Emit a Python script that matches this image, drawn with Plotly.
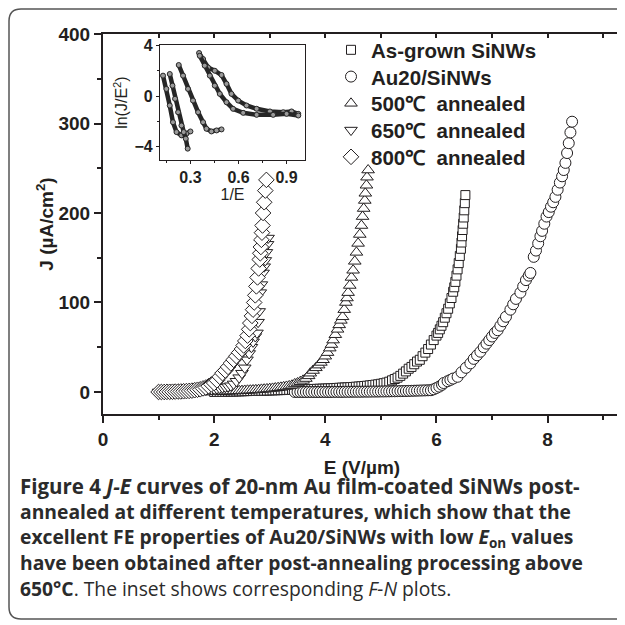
import plotly.graph_objects as go

# ---------------- data ----------------
# Main panel: J (uA/cm^2) vs E (V/um)
as_grown_E = [2.00, 2.05, 2.10, 2.15, 2.20, 2.25, 2.30, 2.35, 2.40, 2.45,
              2.50, 2.55, 2.60, 2.65, 2.70, 2.75, 2.80, 2.85, 2.90, 2.95,
              3.00, 3.05, 3.10, 3.15, 3.20, 3.25, 3.30, 3.35, 3.40, 3.45,
              3.50, 3.55, 3.60, 3.65, 3.70, 3.75, 3.80, 3.85, 3.90, 3.95,
              4.00, 4.05, 4.10, 4.15, 4.20, 4.25, 4.30, 4.35, 4.40, 4.45,
              4.50, 4.55, 4.60, 4.65, 4.70, 4.75, 4.80, 4.85, 4.90, 4.95,
              5.00, 5.05, 5.10, 5.15, 5.20, 5.25, 5.30, 5.35, 5.40, 5.45,
              5.50, 5.55, 5.60, 5.65, 5.70, 5.75, 5.80, 5.85, 5.90, 5.95,
              6.00, 6.03, 6.06, 6.09, 6.12, 6.15, 6.18, 6.21, 6.24, 6.27,
              6.30, 6.32, 6.34, 6.36, 6.38, 6.40, 6.42, 6.44, 6.45, 6.46,
              6.47, 6.48, 6.49, 6.50, 6.51, 6.52]
as_grown_J = [0, 0.1, 0.2, 0.2, 0.3, 0.4, 0.5, 0.5, 0.6, 0.7,
              0.8, 0.9, 1.0, 1.1, 1.2, 1.3, 1.4, 1.4, 1.5, 1.6,
              1.7, 1.8, 1.9, 2.0, 2.1, 2.2, 2.3, 2.4, 2.5, 2.6,
              2.7, 2.8, 2.9, 3.0, 3.1, 3.2, 3.4, 3.5, 3.6, 3.7,
              3.8, 4.0, 4.1, 4.3, 4.5, 4.7, 4.9, 5.0, 5.2, 5.4,
              5.6, 5.9, 6.1, 6.4, 6.7, 7.0, 7.4, 7.8, 8.2, 8.6,
              9.2, 9.8, 10.5, 11.5, 13, 14.5, 16, 18, 20.5, 23,
              26, 28, 31, 34, 36, 40, 44, 48, 53, 58,
              63, 66, 70, 74, 78, 83, 88, 93, 99, 105,
              112, 117, 123, 130, 137, 144, 152, 160, 167, 174,
              181, 188, 195, 203, 211, 220]

au20_E = [3.45, 3.50, 3.55, 3.60, 3.65, 3.70, 3.75, 3.80, 3.85, 3.90,
          3.95, 4.00, 4.05, 4.10, 4.15, 4.20, 4.25, 4.30, 4.35, 4.40,
          4.45, 4.50, 4.55, 4.60, 4.65, 4.70, 4.75, 4.80, 4.85, 4.90,
          4.95, 5.00, 5.05, 5.10, 5.15, 5.20, 5.25, 5.30, 5.35, 5.40,
          5.45, 5.50, 5.55, 5.60, 5.65, 5.70, 5.75, 5.80, 5.85, 5.90,
          5.95, 6.00, 6.05, 6.10, 6.13, 6.20, 6.25, 6.30, 6.38, 6.45,
          6.53, 6.61, 6.67, 6.73, 6.79, 6.85, 6.90, 6.95, 7.00, 7.05,
          7.10, 7.15, 7.20, 7.25, 7.33, 7.38, 7.43, 7.51, 7.56, 7.61,
          7.66, 7.69, 7.75, 7.79, 7.83, 7.87, 7.90, 7.94, 7.98, 8.02,
          8.06, 8.10, 8.14, 8.18, 8.22, 8.26, 8.29, 8.32, 8.35, 8.38,
          8.41, 8.44]
au20_J = [0, 0, 0, 0, 0, 0, 0, 0, 0, 0,
          0, 0, 0, 0, 0.1, 0.1, 0.1, 0.1, 0.2, 0.2,
          0.2, 0.3, 0.3, 0.3, 0.3, 0.4, 0.4, 0.4, 0.5, 0.5,
          0.5, 0.6, 0.6, 0.7, 0.7, 0.8, 0.8, 0.9, 1.0, 1.0,
          1.1, 1.2, 1.3, 1.4, 1.5, 1.6, 1.7, 1.8, 1.9, 2.0,
          3.0, 4.5, 6, 8, 10, 12, 13.5, 15, 17, 22,
          27, 32, 37, 41, 45, 50, 54, 58, 62, 66,
          69, 74, 79, 84, 92, 98, 104, 111, 118, 125,
          130, 133, 151, 158, 166, 174, 180, 188, 196, 201,
          207, 212, 218, 226, 234, 241, 248, 256, 267, 278,
          290, 302]

a500_E = [1.80, 1.85, 1.90, 1.95, 2.00, 2.05, 2.10, 2.15, 2.20, 2.25,
          2.30, 2.35, 2.40, 2.45, 2.50, 2.55, 2.60, 2.65, 2.70, 2.75,
          2.80, 2.85, 2.90, 2.95, 3.00, 3.05, 3.10, 3.15, 3.20, 3.25,
          3.30, 3.35, 3.40, 3.45, 3.50, 3.55, 3.60, 3.65, 3.70, 3.73,
          3.78, 3.83, 3.88, 3.92, 3.96, 4.00, 4.04, 4.08, 4.11, 4.14,
          4.18, 4.22, 4.25, 4.28, 4.31, 4.34, 4.37, 4.39, 4.41, 4.44,
          4.47, 4.50, 4.53, 4.56, 4.59, 4.62, 4.65, 4.67, 4.69, 4.71,
          4.72, 4.74, 4.75, 4.77]
a500_J = [0, 0.1, 0.2, 0.3, 0.4, 0.5, 0.6, 0.7, 0.8, 0.9,
          1.0, 1.1, 1.2, 1.4, 1.5, 1.7, 1.9, 2.0, 2.2, 2.4,
          2.6, 2.9, 3.1, 3.4, 3.7, 4.0, 4.4, 4.8, 5.2, 5.7,
          6.2, 6.8, 7.5, 9, 10, 11.5, 13, 15, 18, 21,
          24, 27, 30, 33, 36, 40, 44, 49, 53, 58,
          64, 70, 75, 80, 84, 92, 100, 105, 111, 119,
          128, 136, 146, 156, 166, 176, 186, 196, 205, 214,
          222, 231, 240, 248]

a650_E = [1.00, 1.05, 1.10, 1.15, 1.20, 1.25, 1.30, 1.35, 1.40, 1.45,
          1.50, 1.55, 1.60, 1.65, 1.70, 1.75, 1.80, 1.85, 1.90, 1.95,
          2.00, 2.05, 2.10, 2.15, 2.20, 2.25, 2.30, 2.35, 2.40, 2.45,
          2.50, 2.55, 2.59, 2.63, 2.67, 2.70, 2.74, 2.77, 2.79, 2.81,
          2.83, 2.85, 2.88, 2.90, 2.92, 2.94, 2.96, 2.97]
a650_J = [0, 0, 0.1, 0.1, 0.2, 0.3, 0.4, 0.5, 0.6, 0.7,
          0.8, 1.0, 1.2, 1.4, 1.6, 1.8, 2.0, 2.3, 2.6, 3.0,
          3.4, 3.8, 4.3, 4.9, 5.5, 6, 7, 9, 12, 16,
          21, 27, 36, 43, 50, 56, 62, 66, 78, 90,
          111, 120, 133, 140, 147, 156, 165, 172]

a800_E = [1.00, 1.05, 1.10, 1.15, 1.20, 1.25, 1.30, 1.35, 1.40, 1.45,
          1.50, 1.55, 1.60, 1.65, 1.70, 1.75, 1.80, 1.85, 1.90, 1.95,
          2.00, 2.05, 2.10, 2.15, 2.20, 2.25, 2.30, 2.35, 2.40, 2.45,
          2.50, 2.53, 2.56, 2.60, 2.63, 2.65, 2.68, 2.70, 2.72, 2.74,
          2.76, 2.78, 2.80, 2.82, 2.83, 2.84, 2.85, 2.86, 2.87, 2.88,
          2.90, 2.92, 2.94]
a800_J = [0, 0, 0, 0.1, 0.2, 0.3, 0.4, 0.5, 0.6, 0.8,
          1.0, 1.2, 1.5, 2.0, 2.5, 3.0, 4.0, 5.0, 6.5, 8.5,
          10, 13, 17, 21, 24, 28, 32, 36, 40, 44,
          48, 52, 57, 63, 70, 77, 85, 92, 100, 108,
          118, 128, 138, 148, 155, 162, 170, 178, 186, 200,
          212, 225, 237]

# Inset: ln(J/E^2) vs 1/E
fn_au20_x = [0.129, 0.150, 0.171, 0.191, 0.213, 0.244, 0.275, 0.300]
fn_au20_y = [1.63, 0.58, -0.73, -2.05, -2.83, -3.09, -2.96, -2.78]
fn_grown_x = [0.171, 0.188, 0.204, 0.223, 0.244, 0.258, 0.271, 0.283]
fn_grown_y = [1.76, 0.84, -0.20, -1.26, -2.31, -2.83, -3.35, -4.14]
fn_500_x = [0.227, 0.254, 0.285, 0.316, 0.348, 0.379, 0.400, 0.431, 0.463, 0.494]
fn_500_y = [2.47, 1.63, 0.58, -0.34, -1.26, -2.05, -2.57, -2.78, -2.70, -2.62]
fn_650_x = [0.354, 0.379, 0.410, 0.452, 0.494, 0.525, 0.556, 0.598, 0.650, 0.713, 0.796, 0.879, 0.931, 0.973]
fn_650_y = [3.42, 2.94, 2.28, 2.02, 1.68, 0.98, 0.19, -0.34, -0.73, -0.99, -1.20, -1.26, -1.20, -1.39]
fn_800_x = [0.358, 0.389, 0.421, 0.452, 0.483, 0.525, 0.566, 0.629, 0.713, 0.816, 0.900, 0.973]
fn_800_y = [3.20, 2.42, 1.63, 0.84, 0.19, -0.47, -0.99, -1.31, -1.47, -1.47, -1.39, -1.52]

series_names = ["As-grown SiNWs", "Au20/SiNWs", "500\u2103  annealed", "650\u2103  annealed", "800\u2103  annealed"]

caption_lines = [
    "<b>Figure 4</b> <b><i>J-E</i> curves of 20-nm Au film-coated SiNWs post-</b>",
    "<b>annealed at different temperatures, which show that the</b>",
    "<b>excellent FE properties of Au20/SiNWs with low <i>E</i><sub>on</sub> values</b>",
    "<b>have been obtained after post-annealing processing above</b>",
    "<b>650\u00b0C</b>. The inset shows corresponding <i>F-N</i> plots.",
]

# ---------------- figure ----------------
INK = "#231f20"
FONT = "Liberation Sans"
OFF = 8  # page body margin of the html page

# page-pixel -> paper coordinates (plot area: x 103..621, y 34..414 on the page)
def ppx(px):
    return (px - 103) / 518

def ppy(py):
    return (414 - py) / 380

fig = go.Figure()

main = [
    (as_grown_E, as_grown_J, "square", 9),
    (au20_E, au20_J, "circle", 11),
    (a500_E, a500_J, "triangle-up", 11),
    (a650_E, a650_J, "triangle-down", 11),
    (a800_E, a800_J, "diamond", 12),
]
legend_ids = ["legend", "legend2", "legend3", "legend4", "legend5"]
for i, (xs, ys, sym, sz) in enumerate(main):
    fig.add_trace(go.Scatter(
        x=xs, y=ys, mode="markers", name=series_names[i], legend=legend_ids[i],
        marker=dict(symbol=sym, size=sz, color="white", line=dict(color=INK, width=1)),
        xaxis="x", yaxis="y", hoverinfo="skip"))

inset = [(fn_au20_x, fn_au20_y), (fn_grown_x, fn_grown_y), (fn_500_x, fn_500_y),
         (fn_650_x, fn_650_y), (fn_800_x, fn_800_y)]
for xs, ys in inset:
    fig.add_trace(go.Scatter(
        x=xs, y=ys, mode="lines+markers", showlegend=False,
        line=dict(color="#262626", width=4.5),
        marker=dict(symbol="circle", size=5, color="#9a9a9a", line=dict(color="#262626", width=1)),
        xaxis="x2", yaxis="y2", hoverinfo="skip"))

# invisible trace for the mirrored tick axes
fig.add_trace(go.Scatter(x=[0], y=[0], mode="markers", marker=dict(opacity=0), showlegend=False,
                         xaxis="x3", yaxis="y3", hoverinfo="skip"))

tickfont = dict(family=FONT, size=19, color=INK, weight="bold")
titlefont = dict(family=FONT, size=19, color=INK, weight="bold")
insetfont = dict(family=FONT, size=16, color=INK, weight="bold")

legend_layout = {}
for i, lid in enumerate(legend_ids):
    legend_layout[lid] = dict(x=ppx(331), y=ppy(50 + 26.75 * i), xanchor="left", yanchor="middle",
                              bgcolor="rgba(0,0,0,0)", borderwidth=0,
                              font=dict(family=FONT, size=20.5, color=INK, weight="bold"),
                              itemsizing="trace")

fig.update_layout(
    width=625 - OFF, height=625 - OFF,
    margin=dict(l=103 - OFF, r=4, t=34 - OFF, b=211),
    paper_bgcolor="white", plot_bgcolor="white",
    font=dict(family=FONT, color=INK),
    xaxis=dict(range=[0, 9.32], tickvals=[0, 2, 4, 6, 8], ticks="outside", ticklen=7, tickwidth=2,
               tickcolor=INK, minor=dict(dtick=1, ticks="outside", ticklen=4, tickwidth=2, tickcolor=INK),
               showline=True, linewidth=2, linecolor=INK, mirror=True, showgrid=False, zeroline=False,
               tickfont=tickfont, automargin=False,
               title=dict(text="E (V/\u00b5m)", font=titlefont, standoff=12)),
    yaxis=dict(range=[-24.6, 400], tickvals=[0, 100, 200, 300, 400], ticks="outside", ticklen=7, tickwidth=2,
               tickcolor=INK, minor=dict(dtick=50, ticks="outside", ticklen=4, tickwidth=2, tickcolor=INK),
               showline=True, linewidth=2, linecolor=INK, mirror=True, showgrid=False, zeroline=False,
               tickfont=tickfont, automargin=False,
               title=dict(text="J (\u00b5A/cm<sup>2</sup>)", font=titlefont, standoff=0)),
    xaxis3=dict(overlaying="x", side="top", range=[0, 9.32], dtick=1, tick0=0, ticks="inside", ticklen=4,
                tickwidth=1.5, tickcolor=INK, showticklabels=False, showgrid=False, zeroline=False,
                automargin=False),
    yaxis3=dict(overlaying="y", side="right", range=[-24.6, 400], dtick=50, tick0=0, ticks="inside", ticklen=4,
                tickwidth=1.5, tickcolor=INK, showticklabels=False, showgrid=False, zeroline=False,
                automargin=False),
    xaxis2=dict(domain=[0.110, 0.390], anchor="y2", range=[0.11, 1.015], tickvals=[0.3, 0.6, 0.9],
                ticks="outside", ticklen=3, tickcolor=INK,
                minor=dict(dtick=0.15, tick0=0, ticks="outside", ticklen=2, tickcolor=INK),
                showline=True, linewidth=1, linecolor=INK, mirror=True, showgrid=False, zeroline=False,
                tickfont=insetfont, automargin=False,
                title=dict(text="1/E", font=dict(family=FONT, size=16, color=INK), standoff=0)),
    yaxis2=dict(domain=[0.668, 0.971], anchor="x2", range=[-5.05, 4.05], tickvals=[-4, 0, 4],
                ticks="outside", ticklen=3, tickcolor=INK,
                minor=dict(dtick=2, ticks="outside", ticklen=2, tickcolor=INK),
                showline=True, linewidth=1, linecolor=INK, mirror=True, showgrid=False, zeroline=False,
                tickfont=insetfont, automargin=False,
                title=dict(text="ln(J/E<sup>2</sup>)", font=dict(family=FONT, size=16, color=INK), standoff=2)),
    showlegend=True,
    **legend_layout,
)

# caption
cap_y = [486, 511, 537, 562, 588]
cap_size = [20.5, 19.3, 19.3, 19.3, 19.3]
for line, py, sz in zip(caption_lines, cap_y, cap_size):
    fig.add_annotation(text=line, xref="paper", yref="paper", x=ppx(18), y=ppy(py),
                       xanchor="left", yanchor="middle", showarrow=False, align="left",
                       font=dict(family="Open Sans", size=sz, color="#2b2b2b"))

# outer rounded frame (journal figure box)
def P(px, py):
    return f"{ppx(px)},{ppy(py)}"

L, T, R, B, r = 9, 9, 640, 619, 12
path = (f"M {P(R, T)} L {P(L + r, T)} Q {P(L, T)} {P(L, T + r)} "
        f"L {P(L, B - r)} Q {P(L, B)} {P(L + r, B)} L {P(R, B)}")
fig.add_shape(type="path", path=path, xref="paper", yref="paper", line=dict(color="#555555", width=1.5))

fig.write_html("out.html")
